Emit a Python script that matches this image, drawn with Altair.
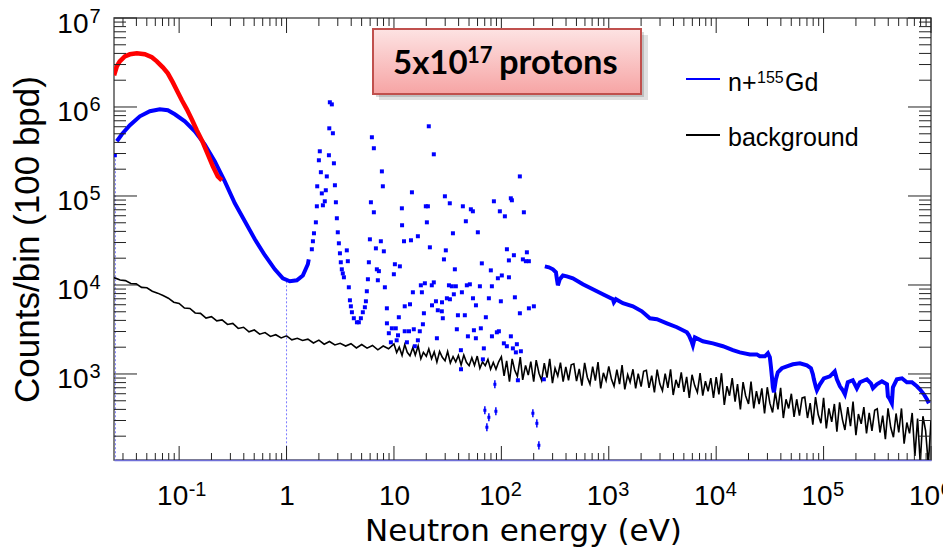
import altair as alt
import pandas as pd

FONT = "Liberation Sans"
BOXFONT = "Lato"

# ---------------- data ----------------
# red curve (thick)
red_energy = [0.0248, 0.0263, 0.0280, 0.0312, 0.0348, 0.0404, 0.0479, 0.0557, 0.0620, 0.0705,
              0.0785, 0.0874, 0.0972, 0.106, 0.118, 0.131, 0.146, 0.166, 0.185, 0.206, 0.229, 0.250]
red_counts = [2.27e6, 2.87e6, 3.26e6, 3.71e6, 3.91e6, 4.01e6, 3.91e6, 3.62e6, 3.26e6, 2.79e6,
              2.39e6, 1.89e6, 1.46e6, 1.19e6, 9.42e5, 7.27e5, 5.47e5, 4.01e5, 2.94e5, 2.16e5, 1.66e5, 1.50e5]

# n+155Gd, smooth thermal part
gd_low_energy = [0.0263, 0.0293, 0.0348, 0.0431, 0.0534, 0.0661, 0.0785, 0.0912, 0.113, 0.140,
                 0.173, 0.215, 0.266, 0.330, 0.409, 0.507, 0.628, 0.778, 0.924, 1.073, 1.247,
                 1.418, 1.579, 1.61]
gd_low_counts = [4.12e5, 4.94e5, 6.23e5, 7.86e5, 8.95e5, 9.42e5, 9.18e5, 8.28e5, 6.91e5, 5.33e5,
                 3.81e5, 2.45e5, 1.46e5, 8.28e4, 5.20e4, 3.26e4, 2.16e4, 1.50e4, 1.19e4, 1.10e4, 1.13e4,
                 1.28e4, 1.71e4, 1.94e4]

# n+155Gd, resolved resonance region (energy eV, counts)
gd_res = [
    (0.0252, 2.87e5),
    (1.72, 2.52e4), (1.76, 3.10e4), (1.80, 3.81e4), (1.875, 5.06e4), (1.915, 7.66e4), (1.93, 1.285e5),
    (2.00, 2.52e5), (2.04, 3.18e5), (2.087, 1.85e5), (2.13, 1.07e5), (2.18, 7.86e4), (2.27, 8.72e4),
    (2.32, 1.16e5), (2.37, 1.66e5), (2.48, 2.87e5), (2.50, 5.76e5), (2.53, 1.13e6), (2.64, 1.07e6),
    (2.70, 5.07e5), (2.76, 2.33e5), (2.82, 1.32e5), (2.88, 8.50e4), (2.94, 5.62e4), (3.00, 3.91e4),
    (3.07, 2.94e4), (3.14, 2.27e4), (3.20, 1.80e4), (3.27, 1.50e4), (3.34, 1.35e4), (3.42, 1.22e4),
    (3.64, 2.45e4), (3.72, 1.85e4), (3.80, 9.42e3), (3.89, 6.73e3), (3.97, 5.76e3), (4.06, 4.94e3),
    (4.23, 4.23e3), (4.52, 3.81e3), (4.71, 3.81e3), (4.92, 4.23e3), (5.13, 4.94e3), (5.36, 5.62e3),
    (5.48, 6.56e3), (5.59, 8.50e3), (5.72, 1.16e4), (5.84, 1.80e4), (5.97, 3.26e4), (6.50, 6.56e4),
    (6.10, 8.50e4), (7.88, 1.285e5), (7.72, 1.89e5), (6.50, 3.44e5), (6.23, 4.57e5), (6.79, 2.58e4),
    (6.93, 1.50e4), (7.24, 1.43e4), (7.08, 1.13e4), (8.05, 2.39e4), (7.55, 3.10e4), (8.23, 9.42e3),
    (8.59, 5.47e3), (8.60, 3.71e3), (8.96, 2.87e3), (9.36, 2.27e3), (9.56, 3.26e3), (10.4, 3.26e3),
    (10.9, 2.72e3), (10.6, 2.39e3), (11.1, 4.34e3), (10.2, 1.71e4), (11.35, 1.62e4), (9.98, 1.32e4),
    (11.85, 7.27e4), (11.9, 4.69e4), (12.4, 3.10e4), (12.6, 5.76e3), (14.1, 6.07e3), (12.6, 3.02e3),
    (13.8, 3.02e3), (13.2, 2.27e3), (14.4, 3.18e4), (14.7, 1.10e5), (15.3, 3.18e3), (15.0, 8.28e3),
    (16.7, 2.39e3), (15.65, 2.05e3), (16.7, 3.53e4), (17.4, 3.02e3), (18.6, 3.62e3), (19.0, 4.81e3),
    (18.2, 8.28e3), (17.8, 9.92e3), (19.4, 1.045e4), (19.8, 7.66e4), (20.7, 7.66e4), (20.25, 5.06e4),
    (21.1, 6.07e5), (21.6, 2.65e4), (22.5, 9.92e3), (23.5, 1.07e4), (22.6, 5.91e3), (23.5, 2.94e5),
    (24.6, 6.56e3), (25.6, 5.20e3), (27.9, 5.06e3), (28.0, 6.39e3), (28.5, 4.23e3), (25.1, 2.52e3),
    (29.8, 9.92e4), (30.4, 2.45e4), (29.2, 1.94e4), (31.1, 7.09e3), (33.2, 6.91e3), (33.1, 8.28e4),
    (32.5, 9.92e3), (34.6, 9.67e3), (37.7, 9.67e3), (36.1, 7.86e3), (35.4, 3.81e4), (36.9, 1.50e4),
    (39.4, 4.57e3), (38.5, 3.18e3), (42.0, 1.85e3), (42.1, 1.13e3), (42.9, 8.28e3), (43.8, 7.66e4),
    (45.7, 4.57e3), (46.7, 5.20e4), (47.7, 9.92e3), (50.9, 1.018e4), (52.0, 7.09e4), (54.3, 6.73e4),
    (48.8, 2.65e3), (54.4, 7.09e3), (55.5, 3.10e3), (57.9, 2.52e3), (58.0, 5.91e3), (60.4, 3.91e4),
    (63.1, 9.67e3), (64.4, 3.26e3), (65.8, 1.75e4), (67.3, 1.46e3), (68.7, 1.94e3), (71.7, 4.34e3),
    (76.5, 7.09e3), (79.8, 1.46e4), (81.6, 9.67e3), (81.7, 2.65e3), (85.2, 8.72e4), (90.8, 2.94e3),
    (94.8, 3.02e3), (92.8, 1.19e4), (96.8, 6.73e4), (98.9, 6.56e3), (101.0, 1.28e4), (105.5, 2.21e3),
    (107.8, 5.91e4), (112.5, 2.05e3), (112.6, 2.52e4), (117.5, 1.89e4), (117.6, 1.22e4), (122.6, 2.65e3),
    (122.5, 9.42e4), (125.3, 8.95e4), (128.0, 1.94e3), (130.8, 2.16e4), (133.6, 7.27e3), (136.5, 1.75e3),
    (139.4, 2.16e3), (142.5, 850), (148.7, 4.81e3), (148.6, 1.66e5), (151.9, 1.80e3), (158.6, 1.94e4),
    (162.0, 6.56e4), (169.1, 1.85e4), (172.8, 2.33e4), (180.3, 1.85e4), (180.4, 5.47e3), (200.7, 5.76e3),
    (248.7, 872),
]

# low-statistics points carrying error bars: energy, counts, low, high
gd_err = [
    (70.2, 391, 352, 434), (73.3, 252, 227, 280), (76.5, 326, 294, 362), (88.9, 381, 343, 423),
    (87.0, 766, 690, 850), (196.5, 362, 326, 402), (214.0, 279, 251, 310), (223.5, 158, 142, 175),
]

# n+155Gd, unresolved / fast part (energy eV, counts)
gd_high = [
    (254, 1.62e4), (277, 1.58e4), (302, 1.50e4), (322, 1.39e4), (329, 1.16e4), (336, 9.92e3),
    (350, 1.16e4), (374, 1.28e4), (407, 1.25e4), (463, 1.19e4), (574, 1.018e4), (711, 8.95e3),
    (881, 7.86e3), (1092, 6.91e3), (1115, 6.39e3), (1165, 6.91e3), (1353, 6.23e3), (1677, 5.76e3),
    (2033, 5.06e3), (2414, 4.23e3), (2805, 4.12e3), (3475, 3.71e3), (4307, 3.35e3), (5337, 2.94e3),
    (5569, 2.72e3), (5939, 2.27e3), (6068, 2.10e3), (6336, 2.58e3), (7519, 2.33e3), (9318, 2.21e3),
    (1.155e4, 2.05e3), (1.43e4, 1.85e3), (1.66e4, 1.75e3), (2.06e4, 1.66e3), (2.39e4, 1.66e3),
    (2.55e4, 1.58e3), (2.84e4, 1.58e3), (3.03e4, 1.71e3), (3.16e4, 1.54e3), (3.23e4, 1.22e3),
    (3.30e4, 942), (3.37e4, 709), (3.45e4, 623), (3.60e4, 872), (3.75e4, 1045), (4.09e4, 1160),
    (4.55e4, 1220), (5.18e4, 1285), (6.02e4, 1320), (6.99e4, 1250), (7.62e4, 1160), (7.95e4, 990),
    (8.12e4, 872), (8.48e4, 709), (8.66e4, 656), (9.24e4, 766), (1.006e5, 894), (1.145e5, 942),
    (1.27e5, 1070), (1.33e5, 872), (1.42e5, 727), (1.51e5, 656), (1.58e5, 591), (1.68e5, 807),
    (1.87e5, 850), (2.04e5, 691), (2.18e5, 807), (2.53e5, 872), (2.76e5, 786), (2.88e5, 691),
    (3.13e5, 766), (3.49e5, 828), (3.89e5, 766), (3.97e5, 562), (4.14e5, 520), (4.32e5, 469),
    (4.42e5, 709), (4.81e5, 872), (5.36e5, 894), (5.96e5, 807), (6.64e5, 807), (7.39e5, 727),
    (7.88e5, 673), (8.59e5, 591), (9.16e5, 520), (9.56e5, 469),
]

# background histogram: bin energies (eV) and counts
bg_energy = [
    0.0248, 0.0282, 0.0316, 0.0355, 0.0398, 0.0447, 0.0501, 0.0562, 0.0631, 0.0708, 0.0794, 0.0891,
    0.1, 0.112, 0.126, 0.141, 0.158, 0.178, 0.2, 0.224, 0.251, 0.282, 0.316, 0.355, 0.398, 0.447, 0.501, 0.562, 0.631, 0.708, 0.794, 0.891,
    1, 1.12, 1.26, 1.41, 1.58, 1.78, 2, 2.24, 2.51, 2.82, 3.16, 3.55, 3.98, 4.47, 5.01, 5.62, 6.31, 7.08, 7.94, 8.91,
    10, 10.6, 11.2, 11.9, 12.6, 13.3, 14.1, 15.0, 15.8, 16.8, 17.8, 18.8, 20.0, 21.1, 22.4, 23.7, 25.1, 26.6, 28.2, 29.9,
    31.6, 33.5, 35.5, 37.6, 39.8, 42.2, 44.7, 47.3, 50.1, 53.1, 56.2, 59.6, 63.1, 66.8, 70.8, 75.0, 79.4, 84.1, 89.1, 94.4,
    100, 106, 112, 119, 126, 133, 141, 150, 158, 168, 178, 188, 200, 211, 224, 237, 251, 266, 282, 299,
    316, 335, 355, 376, 398, 422, 447, 473, 501, 531, 562, 596, 631, 668, 708, 750, 794, 841, 891, 944,
    1000, 1060, 1120, 1190, 1260, 1330, 1410, 1500, 1580, 1680, 1780, 1880, 2000, 2110, 2240, 2370, 2510, 2660, 2820, 2990,
    3160, 3350, 3550, 3760, 3980, 4220, 4470, 4730, 5010, 5310, 5620, 5960, 6310, 6680, 7080, 7500, 7940, 8410, 8910, 9440,
    1.00e4, 1.06e4, 1.12e4, 1.19e4, 1.26e4, 1.33e4, 1.41e4, 1.50e4, 1.58e4, 1.68e4, 1.78e4, 1.88e4, 2.00e4, 2.11e4, 2.24e4, 2.37e4, 2.51e4, 2.66e4, 2.82e4, 2.99e4,
    3.16e4, 3.35e4, 3.55e4, 3.76e4, 3.98e4, 4.22e4, 4.47e4, 4.73e4, 5.01e4, 5.31e4, 5.62e4, 5.96e4, 6.31e4, 6.68e4, 7.08e4, 7.50e4, 7.94e4, 8.41e4, 8.91e4, 9.44e4,
    1.00e5, 1.06e5, 1.12e5, 1.19e5, 1.26e5, 1.33e5, 1.41e5, 1.50e5, 1.58e5, 1.68e5, 1.78e5, 1.88e5, 2.00e5, 2.11e5, 2.24e5, 2.37e5, 2.51e5, 2.66e5, 2.82e5, 2.99e5,
    3.16e5, 3.35e5, 3.55e5, 3.76e5, 3.98e5, 4.22e5, 4.47e5, 4.73e5, 5.01e5, 5.31e5, 5.62e5, 5.96e5, 6.31e5, 6.68e5, 7.08e5, 7.50e5, 7.94e5, 8.41e5, 8.91e5, 9.44e5,
    1.00e6,
]
bg_counts = [
    12100, 11400, 11200, 10400, 10300, 9400, 9300, 8500, 8100, 7600, 7100, 6400,
    6200, 5500, 5450, 4850, 4800, 4250, 4400, 3950, 4050, 3600, 3700, 3250, 3350, 2980, 3120, 2800, 2920, 2640, 2760, 2540,
    2680, 2420, 2520, 2380, 2460, 2230, 2400, 2160, 2320, 2120, 2210, 2060, 2190, 1960, 2140, 1950, 2090, 1870, 2060, 1920,
    2180, 1740, 2000, 1620, 2140, 1750, 1600, 1980, 1630, 2070, 1480, 1750, 1580, 1910, 1480, 1770, 1360, 1790, 1540, 1410,
    1790, 1330, 1570, 1370, 1620, 1260, 1630, 1350, 1240, 1520, 1250, 1590, 1160, 1370, 1240, 1460, 1130, 1350, 1130, 1370,
    1560, 950, 1400, 820, 1480, 1110, 940, 1550, 860, 1250, 970, 1380, 820, 1430, 1020, 850, 1320, 910, 1480, 790,
    1160, 950, 1340, 820, 1200, 850, 1270, 1300, 830, 1140, 740, 1330, 920, 770, 1210, 840, 1360, 690, 1030, 840,
    1220, 870, 730, 1120, 770, 1260, 670, 980, 810, 1130, 690, 1010, 720, 1070, 1100, 700, 960, 620, 1120, 770,
    650, 1010, 700, 1130, 580, 860, 700, 1040, 630, 930, 540, 980, 740, 620, 1020, 570, 830, 640, 900, 540,
    920, 590, 1020, 450, 730, 570, 900, 490, 770, 400, 810, 570, 460, 820, 410, 640, 460, 690, 360, 710,
    470, 370, 630, 400, 700, 320, 520, 410, 600, 330, 520, 340, 540, 550, 320, 470, 270, 550, 350, 280,
    540, 245, 410, 290, 460, 225, 480, 305, 235, 425, 260, 490, 205, 355, 275, 425, 215, 365, 230, 390,
    405, 220, 340, 185, 410, 250, 195, 360, 220, 410, 165, 285, 215, 365, 120, 315, 100, 335, 230, 95,
    300,
]

# dotted drop lines
drop_energy = [0.0255, 1.0]
drop_top = [2.87e5, 1.1e4]
drop_bottom = [108, 108]

# axis ticks / labels
x_decades = [0.1, 1, 10, 100, 1e3, 1e4, 1e5, 1e6]
x_minor = [m * 10.0 ** k for k in range(-2, 6) for m in range(2, 10) if m * 10.0 ** k > 0.025]
y_decades = [1e3, 1e4, 1e5, 1e6, 1e7]
y_minor = [m * 10.0 ** k for k in range(2, 7) for m in range(2, 10)]

# ---------------- frames ----------------
df_red = pd.DataFrame({"E": red_energy, "C": red_counts})
df_low = pd.DataFrame({"E": gd_low_energy, "C": gd_low_counts})
df_res = pd.DataFrame(gd_res, columns=["E", "C"])
df_err = pd.DataFrame(gd_err, columns=["E", "C", "lo", "hi"])
df_high = pd.DataFrame(gd_high, columns=["E", "C"])
df_bg = pd.DataFrame({"E": bg_energy, "C": bg_counts})
df_drop = pd.DataFrame({"E": drop_energy, "top": drop_top, "bot": drop_bottom})
one = pd.DataFrame({"k": [0]})

W, H = 817, 442
XS = alt.Scale(type="log", domain=[0.02475, 1e6], nice=False)
YS = alt.Scale(type="log", domain=[108, 1e7], nice=False)
BLUE = "#0000ff"
TICK = "#222222"


def label_axis(orient, values, expr, size, align, padding, offset, **kw):
    props = dict(orient=orient, values=values, labelExpr=expr, labelFontSize=size, labelAlign=align,
                 labelPadding=padding, labelOffset=offset, labelBaseline="alphabetic", ticks=False,
                 domain=False, grid=False, labelFont=FONT, labelColor="black", labelFlush=False,
                 labelOverlap=False, title=None)
    props.update(kw)
    return alt.Axis(**props)


ax_x_base1 = label_axis("bottom", [1, 10], "datum.value == 1 ? '1' : '10'", 28, "center", 44, 0,
                        domain=True, domainColor="#6f6fd8", domainWidth=1.5,
                        title="Neutron energy (eV)", titleFont="DejaVu Sans", titleFontSize=31,
                        titleFontWeight="normal", titleColor="black", titleX=409, titleY=80,
                        titleAlign="center", titleBaseline="alphabetic", titleAngle=0)
ax_x_base2 = label_axis("bottom", [0.1, 100, 1e3, 1e4, 1e5, 1e6], "'10'", 28, "center", 44, -7)
ax_x_exp = label_axis("bottom", [0.1, 100, 1e3, 1e4, 1e5, 1e6],
                      "round(log(datum.value) / LN10) + ''", 20, "left", 35, 9)
ax_y_base = label_axis("left", y_decades, "'10'", 28, "right", 26, 14,
                       title="Counts/bin (100 bpd)", titleFont=FONT, titleFontSize=35,
                       titleFontWeight="normal", titleColor="black", titleAngle=270, titleX=-76,
                       titleY=221, titleAlign="center", titleBaseline="alphabetic")
ax_y_exp = label_axis("left", y_decades, "round(log(datum.value) / LN10) + ''", 20, "left", 25, 4)

# ---------------- data layers ----------------
bg = alt.Chart(df_bg).mark_line(color="black", strokeWidth=1.6, clip=True).encode(
    x=alt.X("E:Q", scale=XS, axis=ax_x_base1),
    y=alt.Y("C:Q", scale=YS, axis=ax_y_base),
)
drops = alt.Chart(df_drop).mark_rule(color="#7b7bff", strokeDash=[2, 2], strokeWidth=1, clip=True).encode(
    x=alt.X("E:Q", scale=XS, axis=None),
    y=alt.Y("top:Q", scale=YS, axis=None),
    y2="bot:Q",
)
low = alt.Chart(df_low).mark_line(color=BLUE, strokeWidth=4, clip=True).encode(
    x=alt.X("E:Q", scale=XS, axis=ax_x_base2),
    y=alt.Y("C:Q", scale=YS, axis=ax_y_exp),
)
high = alt.Chart(df_high).mark_line(color=BLUE, strokeWidth=4, clip=True).encode(
    x=alt.X("E:Q", scale=XS, axis=ax_x_exp),
    y=alt.Y("C:Q", scale=YS, axis=None),
)
res = alt.Chart(df_res).mark_square(color=BLUE, size=16, opacity=1, clip=True).encode(
    x=alt.X("E:Q", scale=XS, axis=None),
    y=alt.Y("C:Q", scale=YS, axis=None),
)
err_bars = alt.Chart(df_err).mark_rule(color=BLUE, strokeWidth=1.5, clip=True).encode(
    x=alt.X("E:Q", scale=XS, axis=None),
    y=alt.Y("lo:Q", scale=YS, axis=None),
    y2="hi:Q",
)
err_pts = alt.Chart(df_err).mark_square(color=BLUE, size=9, opacity=1, clip=True).encode(
    x=alt.X("E:Q", scale=XS, axis=None),
    y=alt.Y("C:Q", scale=YS, axis=None),
)
red = alt.Chart(df_red).mark_line(color="#ff0000", strokeWidth=4.5, clip=True).encode(
    x=alt.X("E:Q", scale=XS, axis=None),
    y=alt.Y("C:Q", scale=YS, axis=None),
)


# ---------------- inward ROOT-style ticks on all four sides ----------------
def xticks(values, y0, y1):
    return alt.Chart(pd.DataFrame({"E": values})).mark_rule(color=TICK, strokeWidth=1).encode(
        x=alt.X("E:Q", scale=XS, axis=None), y=alt.value(y0), y2=alt.value(y1))


def yticks(values, x0, x1):
    return alt.Chart(pd.DataFrame({"C": values})).mark_rule(color=TICK, strokeWidth=1).encode(
        y=alt.Y("C:Q", scale=YS, axis=None), x=alt.value(x0), x2=alt.value(x1))


ticks = [
    xticks(x_decades, H, H - 14), xticks(x_minor, H, H - 7),
    xticks(x_decades, 0, 15), xticks(x_minor, 0, 8),
    yticks(y_decades, 0, 23), yticks(y_minor, 0, 12),
    yticks(y_decades, W, W - 23), yticks(y_minor, W, W - 12),
]

# ---------------- annotation box and legend (pixel positions inside plot area) ----------------
grad = alt.Gradient(gradient="linear", x1=0, x2=0, y1=0, y2=1,
                    stops=[alt.GradientStop(color="#fde3e3", offset=0),
                           alt.GradientStop(color="#f6a4a4", offset=1)])
shadow1 = alt.Chart(one).mark_rect(fill="#000000", opacity=0.12).encode(
    x=alt.value(265), x2=alt.value(534), y=alt.value(17), y2=alt.value(82))
shadow2 = alt.Chart(one).mark_rect(fill="#000000", opacity=0.15).encode(
    x=alt.value(262), x2=alt.value(530), y=alt.value(14), y2=alt.value(79))
box = alt.Chart(one).mark_rect(fill=grad, stroke="#c0504d", strokeWidth=2).encode(
    x=alt.value(259), x2=alt.value(527), y=alt.value(11), y2=alt.value(76))
t1 = alt.Chart(one).mark_text(text="5x10", font=BOXFONT, fontSize=33, fontWeight="bold", align="left",
                              baseline="alphabetic", color="black").encode(x=alt.value(279), y=alt.value(56))
t2 = alt.Chart(one).mark_text(text="17", font=BOXFONT, fontSize=22, fontWeight="bold", align="left",
                              baseline="alphabetic", color="black").encode(x=alt.value(353), y=alt.value(45))
t3 = alt.Chart(one).mark_text(text="protons", font=BOXFONT, fontSize=34.5, fontWeight="bold", align="left",
                              baseline="alphabetic", color="black").encode(x=alt.value(385), y=alt.value(56))

leg_blue = alt.Chart(one).mark_rule(color=BLUE, strokeWidth=2).encode(
    x=alt.value(572), x2=alt.value(606), y=alt.value(61))
leg_black = alt.Chart(one).mark_rule(color="black", strokeWidth=2).encode(
    x=alt.value(572), x2=alt.value(606), y=alt.value(117))
l1 = alt.Chart(one).mark_text(text="n+", font=FONT, fontSize=25, align="left", baseline="alphabetic",
                              color="black").encode(x=alt.value(614), y=alt.value(73))
l2 = alt.Chart(one).mark_text(text="155", font=FONT, fontSize=16, align="left", baseline="alphabetic",
                              color="black").encode(x=alt.value(643), y=alt.value(65))
l3 = alt.Chart(one).mark_text(text="Gd", font=FONT, fontSize=25, align="left", baseline="alphabetic",
                              color="black").encode(x=alt.value(671), y=alt.value(73))
l4 = alt.Chart(one).mark_text(text="background", font=FONT, fontSize=25, align="left", baseline="alphabetic",
                              color="black").encode(x=alt.value(614), y=alt.value(128))

chart = alt.layer(
    bg, drops, low, high, res, err_bars, err_pts, red, *ticks,
    shadow1, shadow2, box, t1, t2, t3, leg_blue, leg_black, l1, l2, l3, l4,
).resolve_scale(x="shared", y="shared").resolve_axis(x="independent", y="independent").properties(
    width=W, height=H,
    padding={"left": 114, "top": 18, "right": 12, "bottom": 88},
    autosize=alt.AutoSizeParams(type="none"),
    background="white",
).configure_view(stroke="#555555", strokeWidth=1.5)

chart.save("out.html", embed_options={"renderer": "svg", "actions": False})
